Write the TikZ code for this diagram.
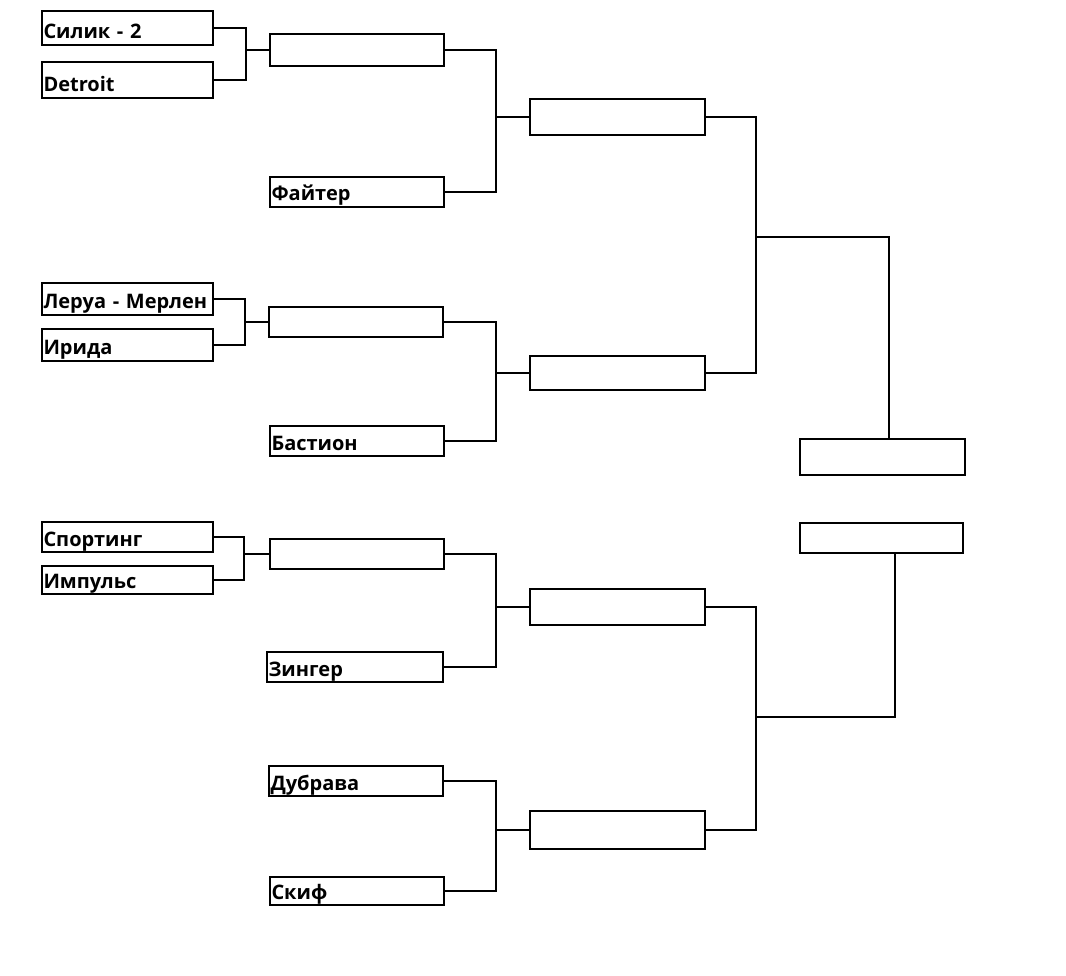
\documentclass[tikz,border=0pt]{standalone}
\usepackage{fontspec}
\setmainfont{Open Sans}

\begin{document}
\begin{tikzpicture}[x=1pt, y=-1pt, line width=1.4pt,
    team/.style 2 args={draw, inner sep=0pt, inner xsep=1.5pt, align=left,
        text width=#1, text height=#2, text depth=6pt,
        font=\bfseries\fontsize{20}{21}\selectfont},
    slot/.style 2 args={draw, inner sep=0pt, minimum width=#1, minimum height=#2}]
    \useasboundingbox (0,0) rectangle (1066,976);

    % Первый круг
    \node[team={168pt}{28pt}] (silik) at (127.5,28) {Силик - 2};
    \node[team={168pt}{30pt}] (detroit) at (127.5,80) {Detroit};
    \node[team={168pt}{26pt}] (lerua) at (127.5,299) {Леруа - Мерлен};
    \node[team={168pt}{26pt}] (irida) at (127.5,345) {Ирида};
    \node[team={168pt}{24pt}] (sporting) at (127.5,537) {Спортинг};
    \node[team={168pt}{22pt}] (impuls) at (127.5,580) {Импульс};

    % Второй круг
    \node[slot={174pt}{32pt}] (r2a) at (357,50) {};
    \node[team={171pt}{24pt}] (fighter) at (357,192) {Файтер};
    \node[slot={174pt}{30pt}] (r2b) at (356,322) {};
    \node[team={171pt}{24pt}] (bastion) at (357,441) {Бастион};
    \node[slot={174pt}{30pt}] (r2c) at (357,554) {};
    \node[team={173pt}{24pt}] (zinger) at (355,667) {Зингер};
    \node[team={171pt}{24pt}] (dubrava) at (356,781) {Дубрава};
    \node[team={171pt}{22pt}] (skif) at (357,891) {Скиф};

    % Полуфиналы
    \node[slot={175pt}{36pt}] (r3a) at (617.5,117) {};
    \node[slot={175pt}{34pt}] (r3b) at (617.5,373) {};
    \node[slot={175pt}{36pt}] (r3c) at (617.5,607) {};
    \node[slot={175pt}{38pt}] (r3d) at (617.5,830) {};

    % Финал
    \node[slot={165pt}{36pt}] (fin1) at (882.5,457) {};
    \node[slot={163pt}{30pt}] (fin2) at (881.5,538) {};

    % Точки стыков
    \coordinate (j1) at (246,50);
    \coordinate (j2) at (245,322);
    \coordinate (j3) at (244,554);
    \coordinate (j4) at (496,117);
    \coordinate (j5) at (496,373);
    \coordinate (j6) at (496,607);
    \coordinate (j7) at (496,830);
    \coordinate (j8) at (756,237);
    \coordinate (j9) at (756,717);

    % Линии сетки
    \draw (silik.east) -| (j1) |- (detroit.east);
    \draw (j1) -- (r2a.west);
    \draw (lerua.east) -| (j2) |- (irida.east);
    \draw (j2) -- (r2b.west);
    \draw (sporting.east) -| (j3) |- (impuls.east);
    \draw (j3) -- (r2c.west);

    \draw (r2a.east) -| (j4) |- (fighter.east);
    \draw (j4) -- (r3a.west);
    \draw (r2b.east) -| (j5) |- (bastion.east);
    \draw (j5) -- (r3b.west);
    \draw (r2c.east) -| (j6) |- (zinger.east);
    \draw (j6) -- (r3c.west);
    \draw (dubrava.east) -| (j7) |- (skif.east);
    \draw (j7) -- (r3d.west);

    \draw (r3a.east) -| (j8) |- (r3b.east);
    \draw (j8) -| ([xshift=6.5pt]fin1.north);
    \draw (r3c.east) -| (j9) |- (r3d.east);
    \draw (j9) -| ([xshift=13.5pt]fin2.south);
\end{tikzpicture}
\end{document}
